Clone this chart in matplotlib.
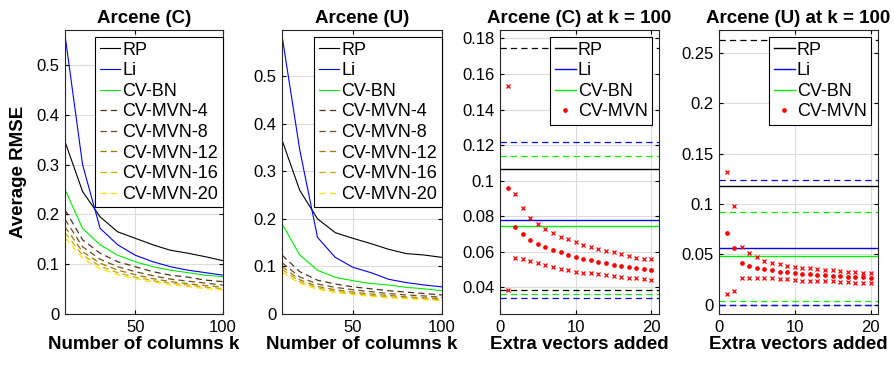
import numpy as np
import matplotlib
matplotlib.use("Agg")
import matplotlib.pyplot as plt

plt.rcParams['font.family'] = ['Liberation Sans', 'DejaVu Sans']
plt.rcParams['lines.scale_dashes'] = False

# number of columns k
k_vals = [10, 20, 30, 40, 50, 60, 70, 80, 90, 100]

# Arcene (C)
c_rp = [0.346, 0.246, 0.195, 0.165, 0.152, 0.139, 0.128, 0.122, 0.115, 0.107]
c_li = [0.560, 0.300, 0.172, 0.139, 0.118, 0.105, 0.095, 0.088, 0.083, 0.078]
c_bn = [0.250, 0.172, 0.139, 0.118, 0.105, 0.095, 0.088, 0.083, 0.078, 0.075]
c_mvn = {
    4:  [0.209, 0.149, 0.122, 0.105, 0.095, 0.085, 0.078, 0.074, 0.068, 0.065],
    8:  [0.190, 0.135, 0.110, 0.095, 0.085, 0.077, 0.070, 0.066, 0.062, 0.058],
    12: [0.175, 0.125, 0.102, 0.088, 0.079, 0.071, 0.065, 0.061, 0.057, 0.054],
    16: [0.163, 0.118, 0.096, 0.083, 0.074, 0.067, 0.062, 0.058, 0.054, 0.051],
    20: [0.153, 0.112, 0.091, 0.079, 0.071, 0.064, 0.059, 0.055, 0.051, 0.048],
}

# Arcene (U)
u_rp = [0.366, 0.260, 0.200, 0.171, 0.159, 0.148, 0.136, 0.127, 0.124, 0.119]
u_li = [0.586, 0.345, 0.161, 0.119, 0.098, 0.087, 0.073, 0.066, 0.061, 0.057]
u_bn = [0.190, 0.124, 0.092, 0.077, 0.070, 0.064, 0.061, 0.056, 0.053, 0.049]
u_mvn = {
    4:  [0.124, 0.089, 0.071, 0.063, 0.057, 0.053, 0.049, 0.046, 0.043, 0.040],
    8:  [0.108, 0.078, 0.063, 0.056, 0.051, 0.047, 0.043, 0.040, 0.038, 0.035],
    12: [0.100, 0.072, 0.058, 0.051, 0.046, 0.042, 0.039, 0.036, 0.034, 0.032],
    16: [0.094, 0.068, 0.055, 0.048, 0.043, 0.039, 0.036, 0.034, 0.032, 0.030],
    20: [0.088, 0.064, 0.052, 0.045, 0.041, 0.037, 0.034, 0.032, 0.030, 0.028],
}

mvn_colors = {4: '#4a3520', 8: '#6e5020', 12: '#9a7a00', 16: '#cfa800', 20: '#ffdd00'}

# extra vectors added (k = 100)
extra = list(range(1, 21))

# Arcene (C) at k = 100: (mean, upper, lower)
c100_rp = (0.1068, 0.1748, 0.0385)
c100_li = (0.0778, 0.1219, 0.0340)
c100_bn = (0.0745, 0.1139, 0.0365)
c100_mean = [0.0957, 0.0741, 0.0698, 0.0666, 0.0645, 0.0625, 0.0610, 0.0597, 0.0582, 0.0572,
             0.0561, 0.0552, 0.0542, 0.0535, 0.0525, 0.0520, 0.0512, 0.0507, 0.0503, 0.0497]
c100_hi = [0.1532, 0.0923, 0.0844, 0.0788, 0.0756, 0.0726, 0.0703, 0.0685, 0.0670, 0.0653,
           0.0640, 0.0627, 0.0615, 0.0606, 0.0597, 0.0585, 0.0576, 0.0567, 0.0561, 0.0557]
c100_lo = [0.0385, 0.0563, 0.0557, 0.0548, 0.0535, 0.0524, 0.0516, 0.0505, 0.0496, 0.0489,
           0.0483, 0.0479, 0.0473, 0.0467, 0.0464, 0.0460, 0.0454, 0.0450, 0.0445, 0.0441]

# Arcene (U) at k = 100
u100_rp = (0.1177, 0.2630, 0.0)
u100_li = (0.0562, 0.1237, 0.0)
u100_bn = (0.0479, 0.0920, 0.0040)
u100_mean = [0.0717, 0.0560, 0.0417, 0.0383, 0.0367, 0.0350, 0.0340, 0.0327, 0.0320, 0.0310,
             0.0307, 0.0300, 0.0297, 0.0293, 0.0287, 0.0280, 0.0273, 0.0273, 0.0270, 0.0267]
u100_hi = [0.1323, 0.0983, 0.0577, 0.0517, 0.0473, 0.0433, 0.0417, 0.0400, 0.0387, 0.0377,
           0.0367, 0.0360, 0.0353, 0.0347, 0.0340, 0.0333, 0.0327, 0.0320, 0.0317, 0.0313]
u100_lo = [0.0107, 0.0140, 0.0260, 0.0260, 0.0267, 0.0267, 0.0260, 0.0253, 0.0253, 0.0247,
           0.0240, 0.0240, 0.0237, 0.0233, 0.0233, 0.0227, 0.0227, 0.0220, 0.0220, 0.0217]

TICK_FS = 12
LEG_FS = 13
LAB_FS = 13.5
GRID_C = '#dcdcdc'
DASH = (0, (4.5, 3))


def style_axes(ax):
    ax.grid(True, color=GRID_C, linewidth=0.8)
    ax.set_axisbelow(True)
    ax.tick_params(direction='in', top=True, right=True, labelsize=TICK_FS,
                   length=3, width=0.8, pad=4)
    for s in ax.spines.values():
        s.set_linewidth(0.8)
        s.set_color('#262626')


def add_legend(ax, xanchor):
    leg = ax.legend(loc='upper right', bbox_to_anchor=(xanchor, 0.975), borderaxespad=0,
                    fontsize=LEG_FS, fancybox=False, framealpha=1, edgecolor='black',
                    handlelength=1.15, handletextpad=0.12, labelspacing=0.2,
                    borderpad=0.25)
    leg.get_frame().set_linewidth(0.8)


def plot_k(ax, rp, li, bn, mvn, title, ylim):
    ax.plot(k_vals, rp, color='black', lw=0.8, label='RP')
    ax.plot(k_vals, li, color='#0000ff', lw=0.8, label='Li')
    ax.plot(k_vals, bn, color='#00ee00', lw=0.8, label='CV-BN')
    for m in [4, 8, 12, 16, 20]:
        ax.plot(k_vals, mvn[m], color=mvn_colors[m], lw=0.9, linestyle=DASH,
                label=f'CV-MVN-{m}')
    ax.set_xlim(10, 100)
    ax.set_ylim(*ylim)
    ax.set_xticks([50, 100])
    ax.set_yticks([0, 0.1, 0.2, 0.3, 0.4, 0.5])
    ax.set_yticklabels(['0', '0.1', '0.2', '0.3', '0.4', '0.5'])
    ax.set_title(title, fontsize=LAB_FS, fontweight='bold', pad=5)
    ax.set_xlabel('Number of columns k', fontsize=LAB_FS, fontweight='bold', labelpad=1)
    style_axes(ax)
    add_legend(ax, 1.0)


def plot_extra(ax, rp, li, bn, mean, hi, lo, title, ylim, yticks, ylabels):
    for vals, col, lab in [(rp, 'black', 'RP'), (li, '#0000ff', 'Li'), (bn, '#00ee00', 'CV-BN')]:
        ax.axhline(vals[0], color=col, lw=1.0, label=lab)
        ax.axhline(vals[1], color=col, lw=0.9, linestyle=DASH)
        ax.axhline(vals[2], color=col, lw=0.9, linestyle=DASH)
    ax.plot(extra, mean, linestyle='none', marker='o', markersize=3.4, color='red',
            markeredgewidth=0, label='CV-MVN')
    ax.plot(extra, hi, linestyle='none', marker='x', markersize=3, color='red',
            markeredgewidth=0.9)
    ax.plot(extra, lo, linestyle='none', marker='x', markersize=3, color='red',
            markeredgewidth=0.9)
    ax.set_xlim(0, 21)
    ax.set_ylim(*ylim)
    ax.set_xticks([0, 10, 20])
    ax.set_yticks(yticks)
    ax.set_yticklabels(ylabels)
    ax.set_title(title, fontsize=LAB_FS, fontweight='bold', pad=5)
    ax.set_xlabel('Extra vectors added', fontsize=LAB_FS, fontweight='bold', labelpad=1)
    style_axes(ax)
    add_legend(ax, 0.956)


fig = plt.figure(figsize=(8.94, 3.67), dpi=100)
bottom = 0.1444
height = 0.7738
ax1 = fig.add_axes([0.0727, bottom, 0.1767, height])
ax2 = fig.add_axes([0.3154, bottom, 0.1790, height])
ax3 = fig.add_axes([0.5593, bottom, 0.1779, height])
ax4 = fig.add_axes([0.8043, bottom, 0.1779, height])

plot_k(ax1, c_rp, c_li, c_bn, c_mvn, 'Arcene (C)', (0, 0.57))
plot_k(ax2, u_rp, u_li, u_bn, u_mvn, 'Arcene (U)', (0, 0.597))
ax1.set_ylabel('Average RMSE', fontsize=LAB_FS, fontweight='bold', labelpad=7)

plot_extra(ax3, c100_rp, c100_li, c100_bn, c100_mean, c100_hi, c100_lo,
           'Arcene (C) at k = 100', (0.025, 0.1847),
           [0.04, 0.06, 0.08, 0.1, 0.12, 0.14, 0.16, 0.18],
           ['0.04', '0.06', '0.08', '0.1', '0.12', '0.14', '0.16', '0.18'])
plot_extra(ax4, u100_rp, u100_li, u100_bn, u100_mean, u100_hi, u100_lo,
           'Arcene (U) at k = 100', (-0.0093, 0.273),
           [0, 0.05, 0.1, 0.15, 0.2, 0.25],
           ['0', '0.05', '0.1', '0.15', '0.2', '0.25'])

fig.savefig('out.png', dpi=100)
